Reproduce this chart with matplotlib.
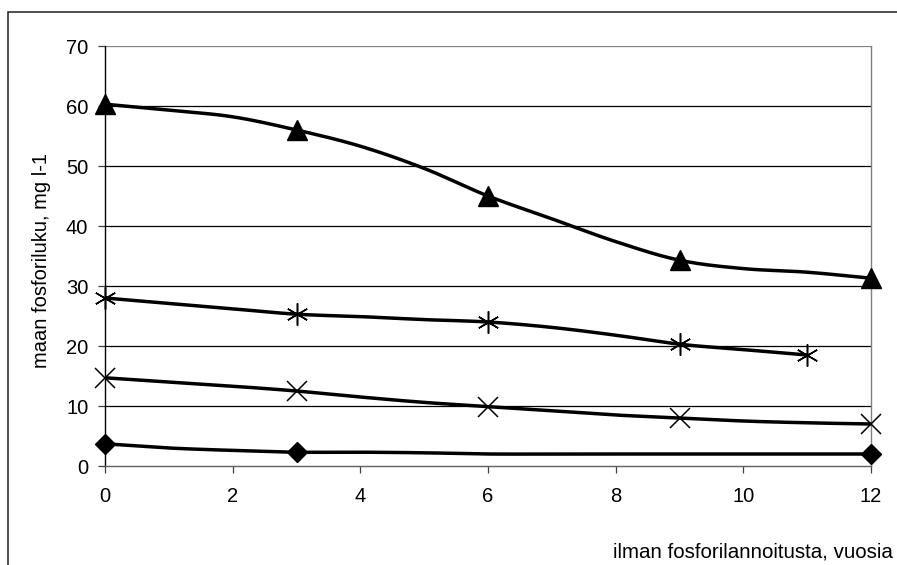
import matplotlib
matplotlib.use("Agg")
import matplotlib.pyplot as plt
from matplotlib.patches import Rectangle
import numpy as np

plt.rcParams["font.family"] = ["Liberation Sans", "DejaVu Sans"]

# yearly values
years = np.arange(0, 13)
triangle_vals = [60.3, 59.3, 58.2, 56.0, 53.3, 49.6, 45.0, 41.2, 37.4, 34.3, 32.9, 32.3, 31.3]
asterisk_years = np.arange(0, 12)
asterisk_vals = [28.0, 27.1, 26.2, 25.3, 24.9, 24.4, 24.0, 23.1, 21.8, 20.3, 19.4, 18.5]
cross_vals = [14.7, 14.0, 13.3, 12.5, 11.5, 10.6, 9.9, 9.2, 8.5, 8.0, 7.5, 7.2, 7.0]
diamond_vals = [3.7, 3.0, 2.6, 2.3, 2.3, 2.2, 2.0, 2.0, 2.0, 2.0, 2.0, 2.0, 2.0]

# years where a measurement marker is shown
triangle_marks = [0, 3, 6, 9, 12]
asterisk_marks = [0, 3, 6, 9, 11]
cross_marks = [0, 3, 6, 9, 12]
diamond_marks = [0, 3, 12]

y_ticks = [0, 10, 20, 30, 40, 50, 60, 70]
x_ticks = [0, 2, 4, 6, 8, 10, 12]
y_label = "maan fosforiluku, mg l-1"
x_label = "ilman fosforilannoitusta, vuosia"


def smooth(x, y, n=20):
    # catmull-rom curve through the points, like a smoothed spreadsheet line
    x = np.asarray(x, float)
    y = np.asarray(y, float)
    px = np.concatenate([[2 * x[0] - x[1]], x, [2 * x[-1] - x[-2]]])
    py = np.concatenate([[2 * y[0] - y[1]], y, [2 * y[-1] - y[-2]]])
    xs, ys = [], []
    t = np.linspace(0, 1, n, endpoint=False)
    for i in range(1, len(px) - 2):
        for p, out in ((px, xs), (py, ys)):
            p0, p1, p2, p3 = p[i - 1], p[i], p[i + 1], p[i + 2]
            out.extend(0.5 * ((2 * p1) + (-p0 + p2) * t
                              + (2 * p0 - 5 * p1 + 4 * p2 - p3) * t ** 2
                              + (-p0 + 3 * p1 - 3 * p2 + p3) * t ** 3))
    xs.append(x[-1])
    ys.append(y[-1])
    return np.array(xs), np.array(ys)


W, H = 897, 565
fig = plt.figure(figsize=(W / 100, H / 100), dpi=100)
fig.patch.set_facecolor("white")

# outer chart frame, running off the right and bottom edges
fig.add_artist(Rectangle((8 / W, -0.1), 1.2, 1.1 - 12 / H, transform=fig.transFigure,
                         fill=False, edgecolor="#303030", linewidth=1.2))

ax = fig.add_axes([105 / W, (H - 466) / H, (871 - 105) / W, (466 - 46) / H])
ax.set_xlim(0, 12)
ax.set_ylim(0, 70)

for v in y_ticks[1:]:
    ax.axhline(v, color="#808080" if v == 70 else "black", linewidth=0.9, zorder=1)

ax.spines["top"].set_visible(False)
ax.spines["right"].set_color("#808080")
ax.spines["bottom"].set_color("#606060")
ax.spines["left"].set_color("black")
for s in ax.spines.values():
    s.set_linewidth(1.0)

ax.set_yticks(y_ticks)
ax.set_xticks(x_ticks)
ax.tick_params(axis="both", direction="out", length=5, width=0.9, color="#404040",
               labelsize=14.5)
ax.tick_params(axis="y", pad=7)
ax.tick_params(axis="x", pad=10)

line_kw = dict(color="black", linewidth=2.5, solid_capstyle="round", zorder=3)

xs, ys = smooth(years, triangle_vals)
ax.plot(xs, ys, **line_kw)
ax.plot(triangle_marks, [triangle_vals[i] for i in triangle_marks], linestyle="none",
        marker="^", markersize=14.5, color="black", clip_on=False, zorder=4)

xs, ys = smooth(asterisk_years, asterisk_vals)
ax.plot(xs, ys, **line_kw)
ax.plot(asterisk_marks, [asterisk_vals[i] for i in asterisk_marks], linestyle="none",
        marker=(6, 2, 0), markersize=16, markeredgewidth=1.1, color="black",
        clip_on=False, zorder=4)

xs, ys = smooth(years, cross_vals)
ax.plot(xs, ys, **line_kw)
ax.plot(cross_marks, [cross_vals[i] for i in cross_marks], linestyle="none",
        marker="x", markersize=14, markeredgewidth=1.1, color="black",
        clip_on=False, zorder=4)

xs, ys = smooth(years, diamond_vals)
ax.plot(xs, ys, **line_kw)
ax.plot(diamond_marks, [diamond_vals[i] for i in diamond_marks], linestyle="none",
        marker="D", markersize=10, color="black", clip_on=False, zorder=4)

fig.text(42 / W, 1 - 260 / H, y_label, rotation=90, ha="center", va="center",
         fontsize=14.5)
# the reference runs this label off the edge; keep it just inside
fig.text(893 / W, 1 - 557 / H, x_label, ha="right", va="baseline", fontsize=14.8)

fig.savefig("out.png", dpi=100)
